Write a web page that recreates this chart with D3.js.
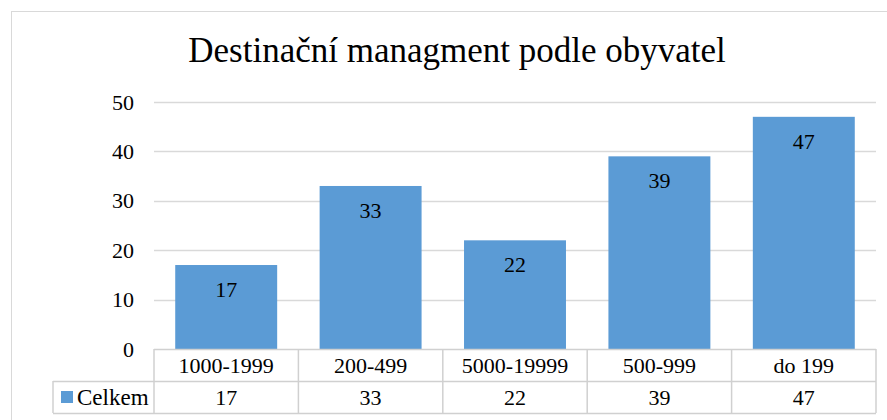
<!DOCTYPE html>
<html>
<head>
<meta charset="utf-8">
<script src="https://cdn.jsdelivr.net/npm/d3@7"></script>
<style>
  body { margin: 0; background: #fff; }
  text { font-family: "Liberation Serif", "Times New Roman", serif; fill: #000; }
</style>
</head>
<body>
<div id="chart"></div>
<script>
// chart data
const categories = ["1000-1999", "200-499", "5000-19999", "500-999", "do 199"];
const values = [17, 33, 22, 39, 47];
const seriesName = "Celkem";
const yTicks = [0, 10, 20, 30, 40, 50];

const W = 887, H = 420;
const margin = { top: 102, right: 11, bottom: 71, left: 154 };
const plotW = W - margin.left - margin.right,
    plotH = H - margin.top - margin.bottom;
const fs = 22;

const svg = d3.select("#chart").append("svg")
    .attr("width", W)
    .attr("height", H);

// outer chart border
svg.append("rect")
    .attr("x", 11.5).attr("y", 11.5)
    .attr("width", W).attr("height", H)
    .attr("fill", "none")
    .attr("stroke", "#d9d9d9");

svg.append("text")
    .attr("x", 457).attr("y", 62)
    .attr("text-anchor", "middle")
    .attr("font-size", 35)
    .text("Destinační managment podle obyvatel");

const x = d3.scaleBand()
    .domain(categories)
    .range([0, plotW])
    .paddingInner(0.294)
    .paddingOuter(0.147);

const y = d3.scaleLinear()
    .domain([0, 50])
    .range([plotH, 0]);

const g = svg.append("g")
    .attr("transform", "translate(" + margin.left + "," + margin.top + ")");

// gridlines
g.selectAll(".grid")
    .data(yTicks.slice(1))
    .enter().append("line")
    .attr("x1", 0).attr("x2", plotW)
    .attr("y1", d => Math.round(y(d)) + 0.5)
    .attr("y2", d => Math.round(y(d)) + 0.5)
    .attr("stroke", "#d9d9d9")
    .attr("stroke-width", 1.5);

// y axis labels
const yAxis = g.append("g")
    .attr("font-family", "Liberation Serif, serif")
    .call(d3.axisLeft(y).tickValues(yTicks).tickSize(0).tickPadding(20));
yAxis.select(".domain").remove();
yAxis.selectAll("text")
    .attr("font-size", fs)
    .attr("fill", "#000");

// bars
g.selectAll(".bar")
    .data(values)
    .enter().append("rect")
    .attr("class", "bar")
    .attr("x", (d, i) => x(categories[i]))
    .attr("y", d => y(d))
    .attr("width", x.bandwidth())
    .attr("height", d => plotH - y(d))
    .attr("fill", "#5b9bd5");

// data labels inside bars
g.selectAll(".lbl")
    .data(values)
    .enter().append("text")
    .attr("x", (d, i) => x(categories[i]) + x.bandwidth() / 2)
    .attr("y", d => y(d) + 32)
    .attr("text-anchor", "middle")
    .attr("font-size", fs)
    .text(d => d);

// data table
const rowH = 32;
const step = plotW / categories.length;
const tbl = g.append("g").attr("transform", "translate(0," + plotH + ")");
const lineColor = "#d0d0d0";

// horizontal lines
tbl.append("line").attr("x1", 0).attr("x2", plotW).attr("y1", 0.5).attr("y2", 0.5)
    .attr("stroke", lineColor).attr("stroke-width", 1.5);
tbl.append("line").attr("x1", -101).attr("x2", plotW).attr("y1", rowH + 0.5).attr("y2", rowH + 0.5)
    .attr("stroke", lineColor).attr("stroke-width", 1.5);
tbl.append("line").attr("x1", -101).attr("x2", plotW).attr("y1", 2 * rowH + 0.5).attr("y2", 2 * rowH + 0.5)
    .attr("stroke", lineColor).attr("stroke-width", 1.5);
// vertical lines
tbl.selectAll(".vl")
    .data(d3.range(categories.length + 1))
    .enter().append("line")
    .attr("x1", i => i * step).attr("x2", i => i * step)
    .attr("y1", 0).attr("y2", 2 * rowH)
    .attr("stroke", lineColor).attr("stroke-width", 1.5);
tbl.append("line").attr("x1", -101).attr("x2", -101).attr("y1", rowH).attr("y2", 2 * rowH)
    .attr("stroke", lineColor).attr("stroke-width", 1.5);

tbl.selectAll(".cat")
    .data(categories)
    .enter().append("text")
    .attr("x", (d, i) => (i + 0.5) * step)
    .attr("y", 24)
    .attr("text-anchor", "middle")
    .attr("font-size", fs)
    .text(d => d);

tbl.selectAll(".val")
    .data(values)
    .enter().append("text")
    .attr("x", (d, i) => (i + 0.5) * step)
    .attr("y", rowH + 24)
    .attr("text-anchor", "middle")
    .attr("font-size", fs)
    .text(d => d);

// legend key
tbl.append("rect")
    .attr("x", -93).attr("y", rowH + 10)
    .attr("width", 12).attr("height", 12)
    .attr("fill", "#5b9bd5");
tbl.append("text")
    .attr("x", -77).attr("y", rowH + 24)
    .attr("font-size", 23)
    .text(seriesName);
</script>
</body>
</html>
